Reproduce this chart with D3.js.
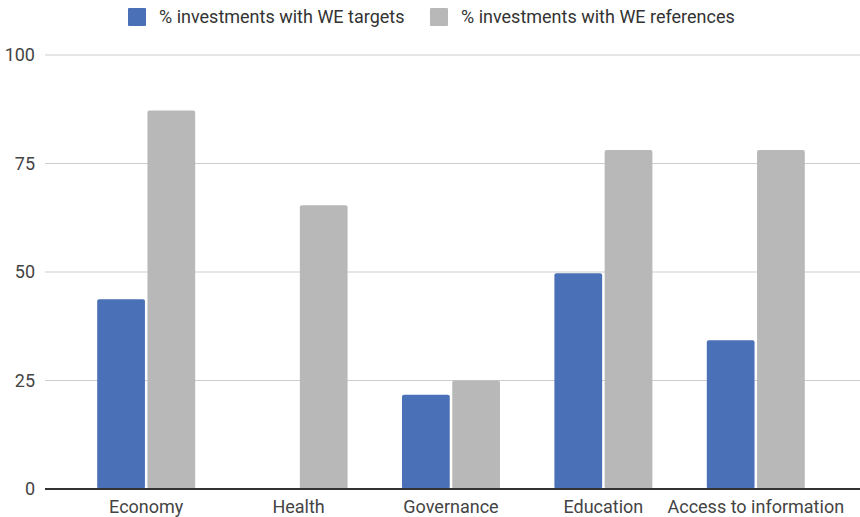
<!DOCTYPE html>
<html>
<head>
<meta charset="utf-8">
<script src="https://cdn.jsdelivr.net/npm/d3@7"></script>
<style>
  body { margin: 0; background: #fff; }
  text { font-family: Roboto, "Noto Sans", sans-serif; }
</style>
</head>
<body>
<script>
const categories = ["Economy", "Health", "Governance", "Education", "Access to information"];
const seriesNames = ["% investments with WE targets", "% investments with WE references"];
const targets = [43.7, 0, 21.7, 49.7, 34.3];
const references = [87.2, 65.4, 25, 78.1, 78.1];
const yTicks = [0, 25, 50, 75, 100];
const colors = ["#4a70b7", "#b8b8b8"];

const width = 860, height = 517;

const svg = d3.select("body").append("svg")
  .attr("width", width)
  .attr("height", height);

const data = categories.map((c, i) => ({cat: c, values: [targets[i], references[i]]}));

const x = d3.scaleBand()
  .domain(categories)
  .range([70, 832])
  .paddingInner(0.357)
  .paddingOuter(0.1785);

const xs = d3.scaleBand()
  .domain(d3.range(seriesNames.length))
  .range([0, x.bandwidth()])
  .paddingInner(0.05);

const y = d3.scaleLinear()
  .domain([0, 100])
  .range([489, 55]);

// gridlines + y labels
const grid = svg.append("g");
grid.selectAll("line")
  .data(yTicks.filter(d => d !== 0))
  .enter().append("line")
    .attr("x1", 45).attr("x2", 860)
    .attr("y1", d => y(d)).attr("y2", d => y(d))
    .attr("stroke", "#cfcccb")
    .attr("stroke-width", 1.2);

grid.selectAll("text")
  .data(yTicks)
  .enter().append("text")
    .attr("x", 35)
    .attr("y", d => y(d))
    .attr("dy", "0.36em")
    .attr("text-anchor", "end")
    .attr("font-size", "18px")
    .attr("fill", "#444")
    .text(d => d);

// bars
const groups = svg.append("g").selectAll("g")
  .data(data)
  .enter().append("g")
    .attr("transform", d => `translate(${x(d.cat)},0)`);

groups.selectAll("rect")
  .data(d => d.values.map((v, i) => ({v, i})).filter(e => e.v > 0))
  .enter().append("rect")
    .attr("x", d => xs(d.i))
    .attr("y", d => y(d.v))
    .attr("width", xs.bandwidth())
    .attr("height", d => y(0) - y(d.v))
    .attr("rx", 2)
    .attr("fill", d => colors[d.i]);

// baseline
svg.append("line")
  .attr("x1", 45).attr("x2", 860)
  .attr("y1", y(0)).attr("y2", y(0))
  .attr("stroke", "#333")
  .attr("stroke-width", 2);

// x labels
svg.append("g").selectAll("text")
  .data(categories)
  .enter().append("text")
    .attr("x", d => x(d) + x.bandwidth() / 2)
    .attr("y", 507)
    .attr("dy", "0.36em")
    .attr("text-anchor", "middle")
    .attr("font-size", "18px")
    .attr("fill", "#444")
    .text(d => d);

// legend
const legendX = [128, 430];
const legend = svg.append("g").selectAll("g")
  .data(seriesNames)
  .enter().append("g")
    .attr("transform", (d, i) => `translate(${legendX[i]},8)`);

legend.append("rect")
  .attr("width", 18).attr("height", 18)
  .attr("rx", 1)
  .attr("fill", (d, i) => colors[i]);

legend.append("text")
  .attr("x", 31)
  .attr("y", 9)
  .attr("dy", "0.36em")
  .attr("font-size", "18px")
  .attr("fill", "#333")
  .text(d => d);
</script>
</body>
</html>
